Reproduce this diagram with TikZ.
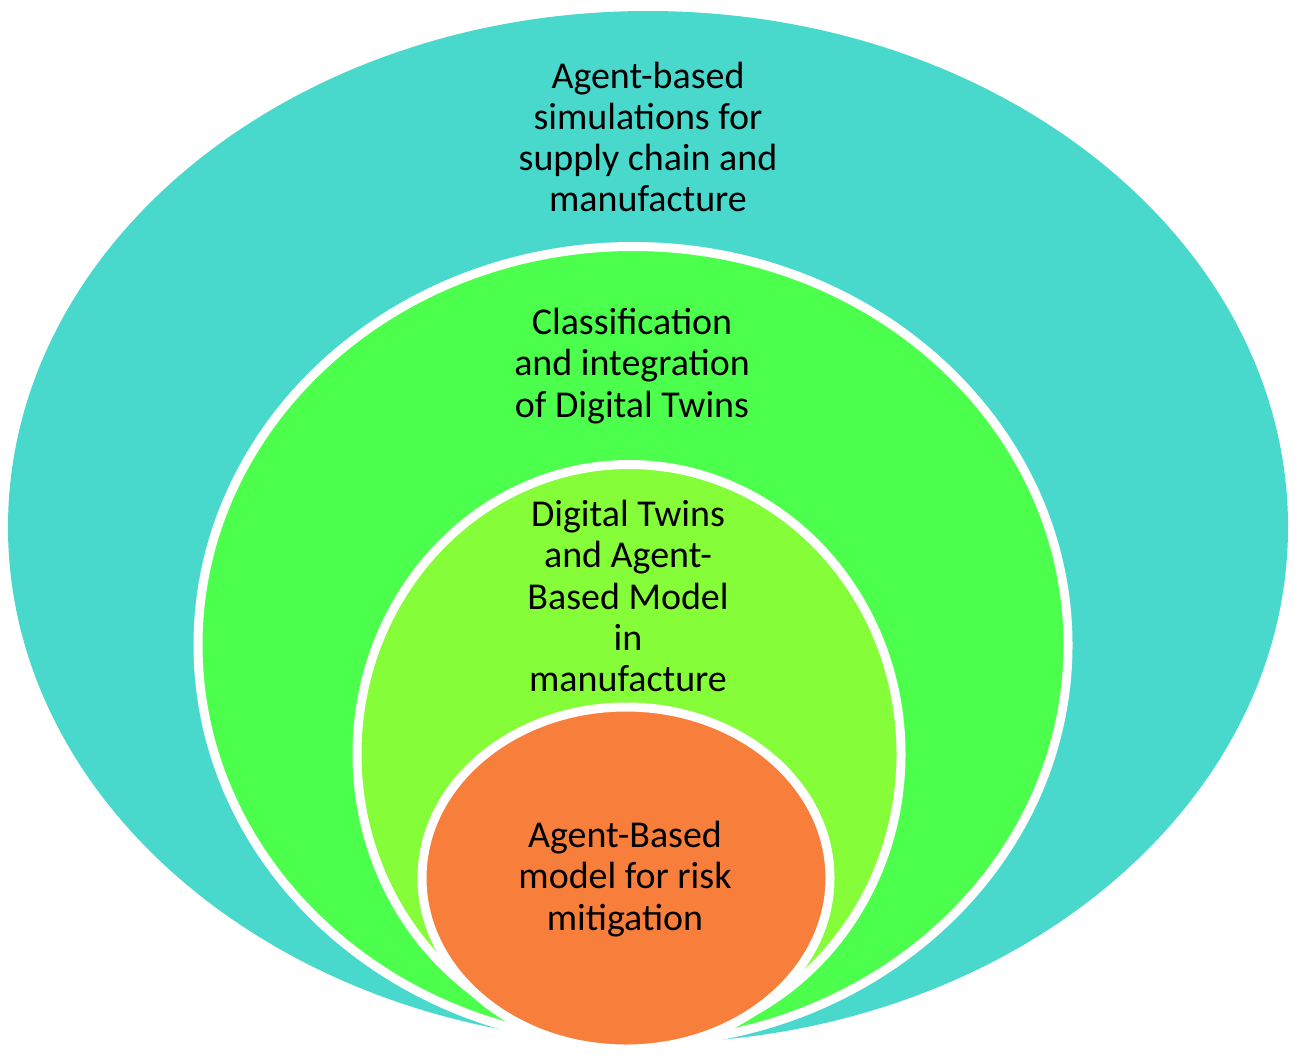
\documentclass[tikz,border=0pt]{standalone}
\usepackage{fontspec}
\setmainfont{Carlito}
\usepackage{tikz}
\usetikzlibrary{shapes.geometric, positioning}
\definecolor{ringteal}{RGB}{72,217,204}
\definecolor{ringgreen}{RGB}{77,255,77}
\definecolor{ringlime}{RGB}{133,253,57}
\definecolor{coreorange}{RGB}{247,127,59}

\begin{document}
\begin{tikzpicture}[
    ring/.style={ellipse, inner sep=0pt, draw=white, line width=0.09cm},
    ringtext/.style={align=center, font=\fontsize{10.8}{11.7}\selectfont, text=black},
]
    \useasboundingbox (0,0) rectangle (13,10.58);

    \node[ring, draw=none, fill=ringteal, minimum width=12.80cm, minimum height=10.32cm] (outer) at (6.48,5.31) {};
    \node[ring, fill=ringgreen, minimum width=8.70cm, minimum height=7.97cm] (middle) at (6.33,4.13) {};
    \node[ring, fill=ringlime, minimum width=5.44cm, minimum height=5.79cm] (inner) at (6.29,3.04) {};
    \node[ring, fill=coreorange, minimum width=4.08cm, minimum height=3.42cm] (core) at (6.26,1.80) {};

    \node[ringtext] (outertext) at (6.48,9.21) {Agent-based\\simulations for\\supply chain and\\manufacture};
    \node[ringtext] (middletext) at (6.32,6.92) {Classification\\and integration\\of Digital Twins};
    \node[ringtext] (innertext) at (6.28,4.62) {Digital Twins\\and Agent-\\Based Model\\in\\manufacture};
    \node[ringtext] (coretext) at (6.25,1.79) {Agent-Based\\model for risk\\mitigation};
\end{tikzpicture}
\end{document}
